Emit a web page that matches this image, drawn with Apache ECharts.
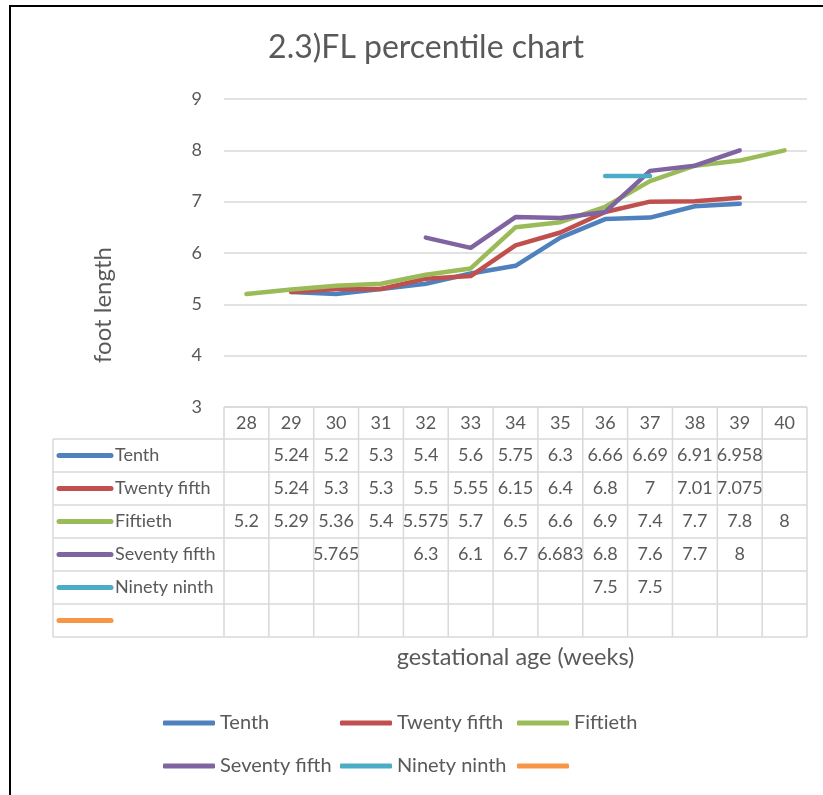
<!DOCTYPE html>
<html>
<head>
<meta charset="utf-8">
<script src="https://cdn.jsdelivr.net/npm/echarts@6/dist/echarts.min.js"></script>
<style>
html,body{margin:0;padding:0;background:#fff;}
#main{width:823px;height:795px;}
</style>
</head>
<body>
<div id="main"></div>
<script>
// ---- data ----
const categories = ['28','29','30','31','32','33','34','35','36','37','38','39','40'];
const seriesNames = ['Tenth', 'Twenty fifth', 'Fiftieth', 'Seventy fifth', 'Ninety ninth', ' '];
const tenth        = [null, 5.24, 5.2, 5.3, 5.4, 5.6, 5.75, 6.3, 6.66, 6.69, 6.91, 6.958, null];
const twentyFifth  = [null, 5.24, 5.3, 5.3, 5.5, 5.55, 6.15, 6.4, 6.8, 7, 7.01, 7.075, null];
const fiftieth     = [5.2, 5.29, 5.36, 5.4, 5.575, 5.7, 6.5, 6.6, 6.9, 7.4, 7.7, 7.8, 8];
const seventyFifth = [null, null, 5.765, null, 6.3, 6.1, 6.7, 6.683, 6.8, 7.6, 7.7, 8, null];
const ninetyNinth  = [null, null, null, null, null, null, null, null, 7.5, 7.5, null, null, null];
const emptySeries  = [null, null, null, null, null, null, null, null, null, null, null, null, null];
const yTicks = [3, 4, 5, 6, 7, 8, 9];
const titleText = '2.3)FL percentile chart';
const yTitle = 'foot length';
const xTitle = 'gestational age (weeks)';

const allValues = [tenth, twentyFifth, fiftieth, seventyFifth, ninetyNinth, emptySeries];
const colors = ['#4F81BD', '#C0504D', '#9BBB59', '#8064A2', '#4BACC6', '#F79646'];

const FONT = 'Lato';
const TXT = '#595959';
const GRIDC = '#D9D9D9';

const chart = echarts.init(document.getElementById('main'), null, {renderer: 'canvas'});

const option = {
  animation: false,
  backgroundColor: '#fff',
  color: colors,
  title: {
    text: titleText,
    left: 421,
    top: 27,
    textAlign: 'center',
    textStyle: {fontFamily: FONT, fontSize: 32, fontWeight: 'normal', color: TXT}
  },
  grid: {left: 224, right: 16, top: 99, bottom: 388, containLabel: false},
  xAxis: {
    type: 'category',
    data: categories,
    boundaryGap: true,
    axisLine: {show: false},
    axisTick: {show: false},
    axisLabel: {margin: 7, fontFamily: FONT, fontSize: 18, color: TXT},
    name: xTitle,
    nameLocation: 'middle',
    nameGap: 238,
    nameTextStyle: {fontFamily: FONT, fontSize: 23.5, color: TXT}
  },
  yAxis: {
    type: 'value',
    min: yTicks[0],
    max: yTicks[yTicks.length - 1],
    interval: 1,
    axisLine: {show: false},
    axisTick: {show: false},
    axisLabel: {margin: 22, fontFamily: FONT, fontSize: 18, color: TXT},
    splitLine: {lineStyle: {color: GRIDC, width: 1.5}}
  },
  legend: [
    {
      data: seriesNames.slice(0, 3),
      left: 163, top: 713, padding: 0, itemGap: 0,
      itemWidth: 52, itemHeight: 5, icon: 'roundRect',
      textStyle: {fontFamily: FONT, fontSize: 20, color: TXT, width: 120, lineHeight: 20},
      selectedMode: false
    },
    {
      data: seriesNames.slice(3, 6),
      left: 163, top: 756, padding: 0, itemGap: 0,
      itemWidth: 52, itemHeight: 5, icon: 'roundRect',
      textStyle: {fontFamily: FONT, fontSize: 20, color: TXT, width: 120, lineHeight: 20},
      selectedMode: false
    }
  ],
  series: seriesNames.map((n, i) => ({
    name: n,
    type: 'line',
    data: allValues[i],
    showSymbol: false,
    symbol: 'none',
    connectNulls: false,
    lineStyle: {width: 4.5, color: colors[i], cap: 'round', join: 'round'},
    itemStyle: {color: colors[i]}
  }))
};
chart.setOption(option);

// ---- data table under the plot, positioned from the axes ----
const colX = categories.map(c => chart.convertToPixel({xAxisIndex: 0}, c));
const halfW = (colX[1] - colX[0]) / 2;
const tableTop = chart.convertToPixel({yAxisIndex: 0}, yTicks[0]);
const gridLeft = colX[0] - halfW;
const gridRight = colX[colX.length - 1] + halfW;
const headerH = 32;
const rowH = 33;
const tableLeft = 53;
const nRows = seriesNames.length;
const tableBottom = tableTop + headerH + rowH * nRows;

const g = [];
const lineStyle = {stroke: GRIDC, lineWidth: 1.5};
// outer frame of chart area
g.push({type: 'rect', shape: {x: 10, y: 6, width: 840, height: 820}, style: {fill: 'none', stroke: '#000', lineWidth: 2}, z: 100});
// vertical axis title (centred on plot + table like the original)
g.push({type: 'text', x: 103, y: 305, rotation: Math.PI / 2,
  style: {text: yTitle, fontFamily: FONT, fontSize: 24, fill: TXT, textAlign: 'center', verticalAlign: 'middle'}, z: 50});
// header top border
g.push({type: 'line', shape: {x1: gridLeft, y1: tableTop, x2: gridRight, y2: tableTop}, style: lineStyle, z: 50});
// row borders
for (let r = 0; r <= nRows; r++) {
  const y = tableTop + headerH + r * rowH;
  g.push({type: 'line', shape: {x1: tableLeft, y1: y, x2: gridRight, y2: y}, style: lineStyle, z: 50});
}
// vertical borders
g.push({type: 'line', shape: {x1: tableLeft, y1: tableTop + headerH, x2: tableLeft, y2: tableBottom}, style: lineStyle, z: 50});
for (let c = 0; c <= categories.length; c++) {
  const x = gridLeft + c * 2 * halfW;
  g.push({type: 'line', shape: {x1: x, y1: tableTop, x2: x, y2: tableBottom}, style: lineStyle, z: 50});
}
// rows: legend key, name, values
seriesNames.forEach((name, r) => {
  const cy = tableTop + headerH + r * rowH + rowH / 2;
  g.push({type: 'line', shape: {x1: 59, y1: cy, x2: 111, y2: cy}, style: {stroke: colors[r], lineWidth: 5, lineCap: 'round'}, z: 50});
  g.push({type: 'text', x: 115, y: cy, style: {text: name.trim(), fontFamily: FONT, fontSize: 18, fill: TXT, verticalAlign: 'middle', textAlign: 'left'}, z: 50});
  allValues[r].forEach((v, c) => {
    if (v === null) return;
    g.push({type: 'text', x: colX[c], y: cy, style: {text: String(v), fontFamily: FONT, fontSize: 18, fill: TXT, verticalAlign: 'middle', textAlign: 'center'}, z: 50});
  });
});
chart.setOption({graphic: g});
</script>
</body>
</html>
